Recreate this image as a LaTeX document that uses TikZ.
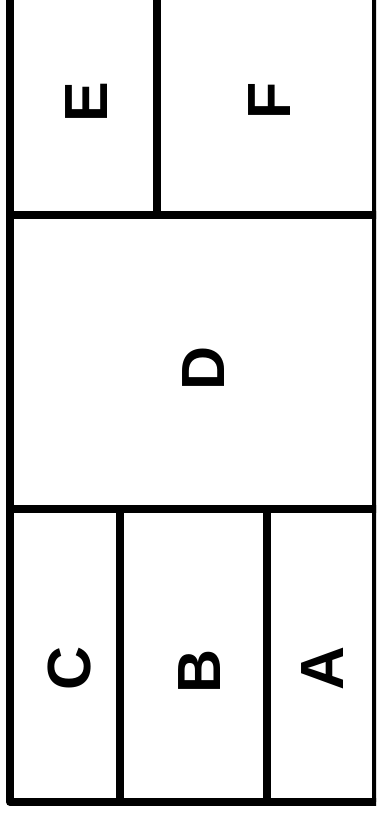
\documentclass[tikz,border=0pt]{standalone}
\usepackage{fontspec}
\setmainfont{Liberation Sans}
\begin{document}
\begin{tikzpicture}[x=1pt,y=-1pt,
  wall/.style={line width=8pt,line join=round,line cap=round},
  lbl/.style={rotate=90,inner sep=0pt,font=\fontsize{61}{61}\selectfont\bfseries}]
\useasboundingbox (0,0) rectangle (376,815);
\clip (0,0) rectangle (376,815);
\coordinate (tl) at (10,-20);
\coordinate (bl) at (10,802);
\coordinate (br) at (390,802);
\coordinate (tr) at (376,-20);
\coordinate (brr) at (376,802);
\draw[wall] (tl) -- (bl) -- (br);
\draw[wall,line cap=butt] (tr) -- (brr);
\draw[wall,line cap=butt] (10,215) -- (380,215);
\draw[wall,line cap=butt] (10,509) -- (380,509);
\draw[wall,line cap=butt] (157,-20) -- (157,215);
\draw[wall,line cap=butt] (120,509) -- (120,802);
\draw[wall,line cap=butt] (267,509) -- (267,802);
\node[lbl] (E) at (86.5,102) {E};
\node[lbl] (F) at (270,101) {F};
\node[lbl] (D) at (204,368) {D};
\node[lbl] (C) at (70,668) {C};
\node[lbl] (B) at (200,671) {B};
\node[lbl] (A) at (323,668) {A};
\end{tikzpicture}
\end{document}
